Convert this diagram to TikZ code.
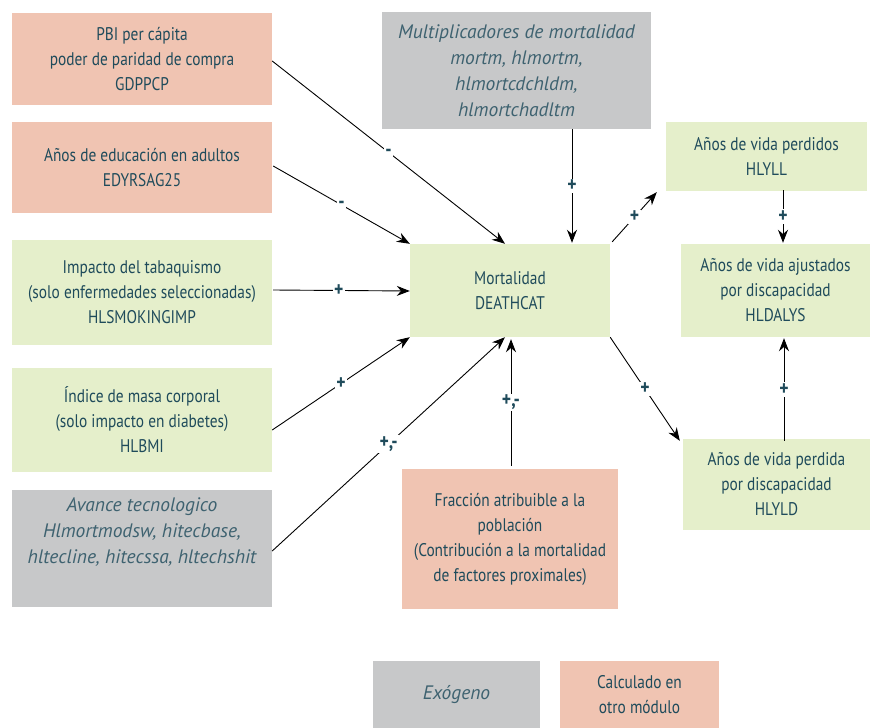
\documentclass[tikz,border=0pt]{standalone}
\usepackage{fontspec}
\setmainfont{PT Sans}[FakeStretch=0.84]
\newfontfamily\exofont{PT Sans}
\usetikzlibrary{arrows.meta,calc}
\definecolor{salmon}{HTML}{F0C4B2}
\definecolor{greenbox}{HTML}{E5EFCB}
\definecolor{graybox}{HTML}{C7C8C9}
\definecolor{teal}{HTML}{1F4B5B}
\definecolor{grayteal}{HTML}{3E6270}
\begin{document}
\begin{tikzpicture}[x=1pt,y=-1pt,
  box/.style={inner sep=0pt,align=center,text=teal,font=\fontsize{18.3}{25}\selectfont},
  calcbox/.style={box,fill=salmon},
  endobox/.style={box,fill=greenbox},
  exobox/.style={box,fill=graybox,text=grayteal,font=\exofont\itshape\fontsize{19.5}{26}\selectfont},
  arr/.style={draw=black,line width=0.9pt,-{Stealth[length=13pt,width=10pt]}},
  sgn/.style={fill=white,inner sep=1.5pt,text=teal,font=\bfseries\fontsize{21}{21}\selectfont}]
\useasboundingbox (0,0) rectangle (871,728);
\fill[white] (0,0) rectangle (871,728);
% nodes
\node[calcbox,minimum width=260pt,minimum height=92pt] (pbi) at (142,59) {PBI per cápita\\poder de paridad de compra\\GDPPCP};
\node[calcbox,minimum width=260pt,minimum height=91pt] (edu) at (142,167.5) {Años de educación en adultos\\EDYRSAG25};
\node[endobox,minimum width=260pt,minimum height=105pt] (tab) at (142,292.5) {Impacto del tabaquismo\\(solo enfermedades seleccionadas)\\HLSMOKINGIMP};
\node[endobox,minimum width=260pt,minimum height=104pt] (bmi) at (142,420) {Índice de masa corporal\\(solo impacto en diabetes)\\HLBMI};
\node[exobox,minimum width=260pt,minimum height=117pt] (ava) at (142,548.5) {Avance tecnologico\\Hlmortmodsw, hitecbase,\\hltecline, hitecssa, hltechshit\\[10pt]};
\node[exobox,minimum width=269pt,minimum height=117pt] (mult) at (516.5,70.5) {Multiplicadores de mortalidad\\mortm, hlmortm,\\hlmortcdchldm,\\hlmortchadltm};
\node[endobox,minimum width=200pt,minimum height=93pt] (mort) at (510,290.5) {Mortalidad\\DEATHCAT};
\node[endobox,minimum width=201pt,minimum height=69pt] (yll) at (766.5,156.5) {Años de vida perdidos\\HLYLL};
\node[endobox,minimum width=189pt,minimum height=93pt] (dalys) at (775.5,290.5) {Años de vida ajustados\\por discapacidad\\HLDALYS};
\node[endobox,minimum width=187pt,minimum height=91pt] (yld) at (776.5,484.5) {Años de vida perdida\\por discapacidad\\HLYLD};
\node[calcbox,minimum width=216pt,minimum height=140pt] (fra) at (510,539) {Fracción atribuible a la\\población\\(Contribución a la mortalidad\\de factores proximales)};
\node[exobox,minimum width=167pt,minimum height=67pt] (exo) at (456.5,694.5) {Exógeno};
\node[calcbox,minimum width=159pt,minimum height=67pt] (calc) at (639.5,694.5) {Calculado en\\otro módulo};
% connectors
\draw[arr] ([yshift=-2pt]pbi.east) -- node[sgn,pos=0.5]{-} ([xshift=-5pt]mort.north);
\draw[arr] ([xshift=1pt,yshift=1.5pt]edu.east) -- node[sgn,pos=0.5]{-} (mort.north west);
\draw[arr] ([xshift=1pt,yshift=2.5pt]tab.east) -- node[sgn,pos=0.48]{+} ([yshift=-0.5pt]mort.west);
\draw[arr] ([yshift=-10pt]bmi.east) -- node[sgn,pos=0.5]{+} (mort.south west);
\draw[arr] ([yshift=-2.5pt]ava.east) -- node[sgn,pos=0.5]{+,-} ([xshift=-5pt]mort.south);
\draw[arr] ([xshift=1pt,yshift=3pt]fra.north) -- node[sgn,pos=0.5]{+,-} ([xshift=1pt,yshift=-2pt]mort.south);
\draw[arr] ([xshift=55.5pt]mult.south) -- node[sgn,pos=0.5]{+} ([xshift=62pt,yshift=1pt]mort.north);
\draw[arr] ([xshift=2pt,yshift=2pt]mort.north east) -- node[sgn,pos=0.5]{+} ([xshift=-9pt,yshift=-1pt]yll.south west);
\draw[arr] (mort.south east) -- node[sgn,pos=0.5]{+} ([xshift=-3pt,yshift=-2pt]yld.north west);
\draw[arr] ([xshift=16.5pt,yshift=1pt]yll.south) -- node[sgn,pos=0.5]{+} ([xshift=7.5pt,yshift=1pt]dalys.north);
\draw[arr] ([xshift=7.5pt,yshift=-2pt]yld.north) -- node[sgn,pos=0.5]{+} ([xshift=8.5pt,yshift=-1pt]dalys.south);
\end{tikzpicture}
\end{document}
